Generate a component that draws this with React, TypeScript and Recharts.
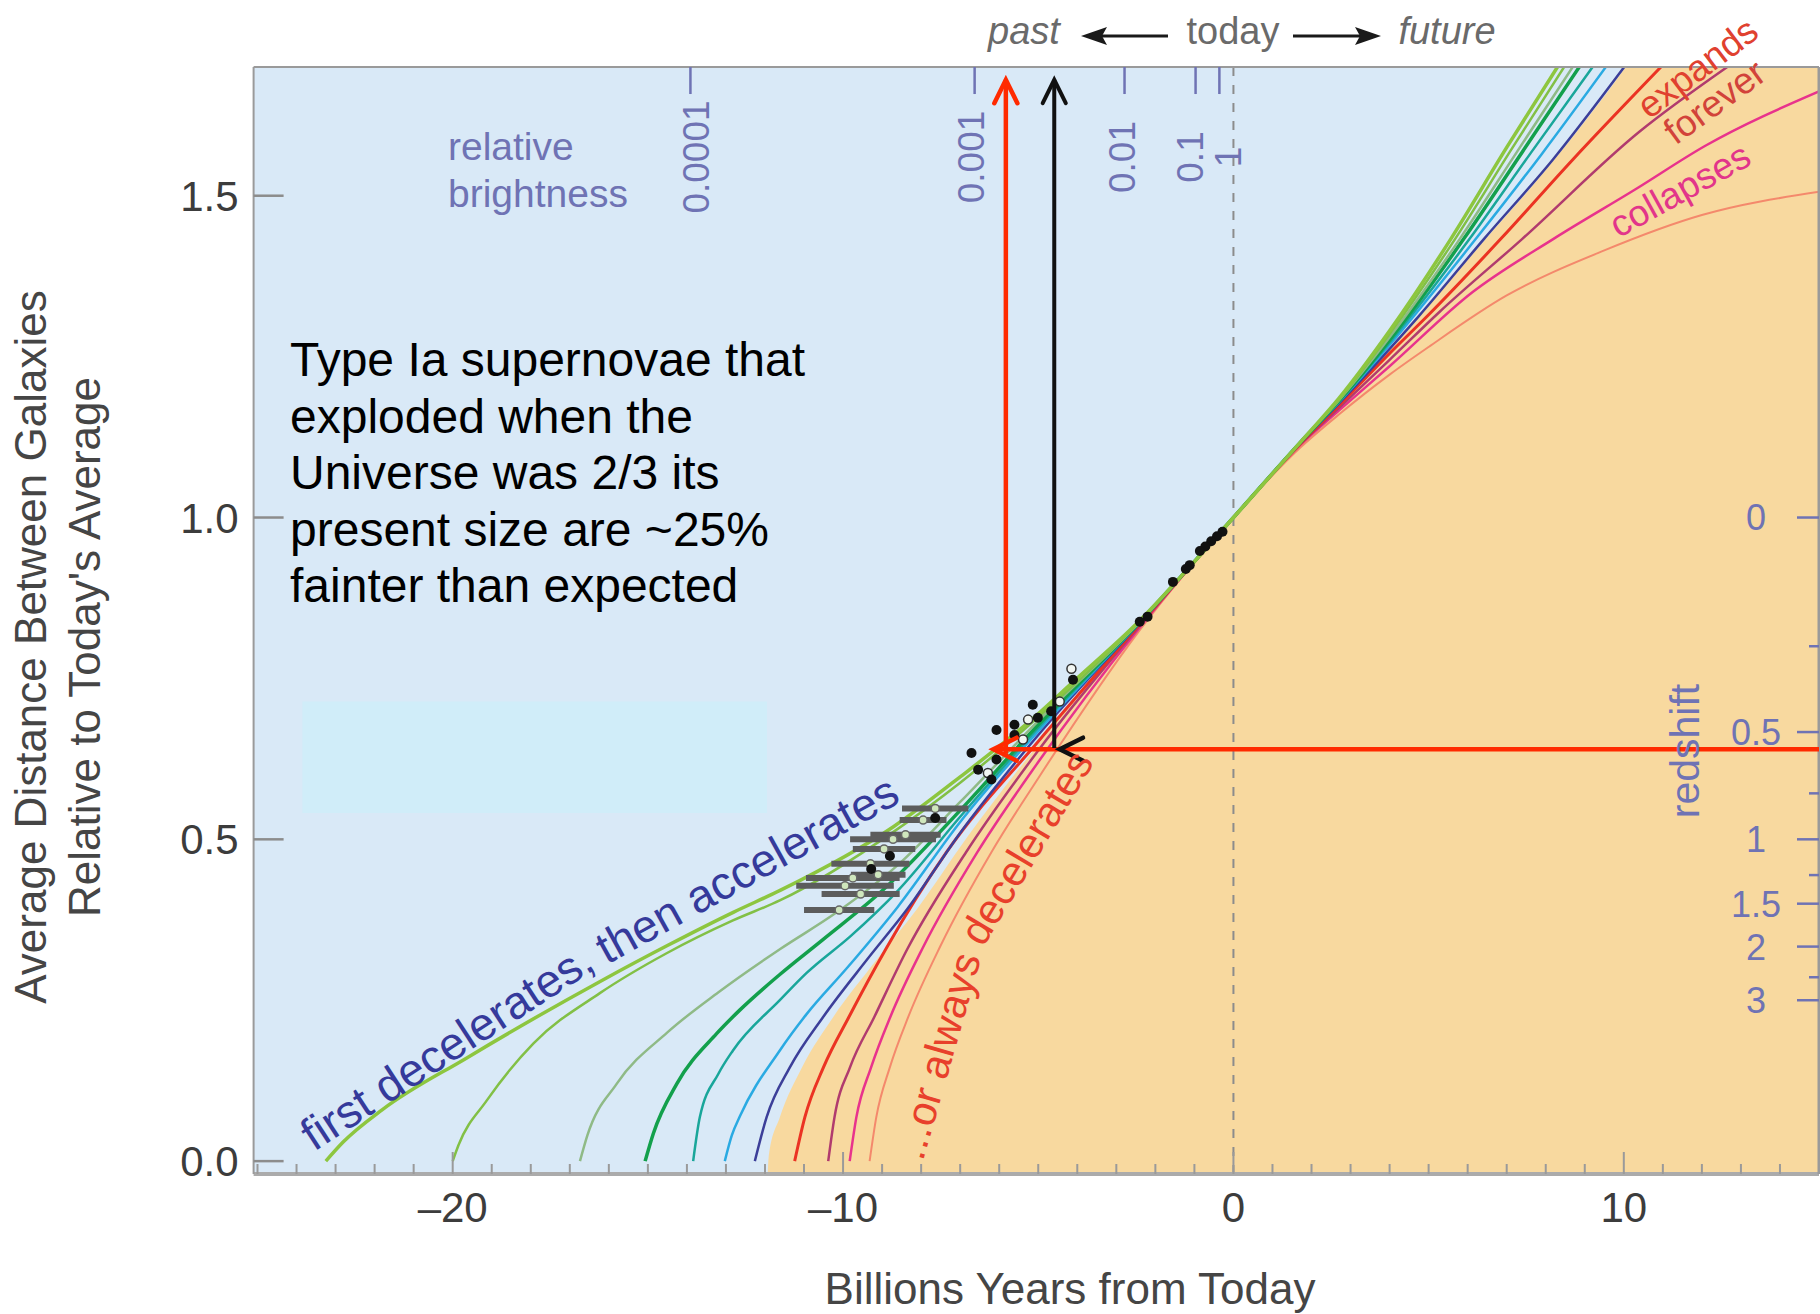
import React from 'react';
import {
  ComposedChart,
  Line,
  Area,
  Scatter,
  ErrorBar,
  XAxis,
  YAxis,
  CartesianGrid,
  ReferenceLine,
  ReferenceArea,
} from 'recharts';

const W = 1820;
const H = 1314;
const FONT = '"Liberation Sans", Arial, Helvetica, sans-serif';
const PURPLE = '#6f73b4';

type Pt = { t: number; a: number };
const pts = (rows: number[][]): Pt[] => rows.map(([t, a]) => ({ t, a }));

// ticks
const yTicks = [0, 0.5, 1.0, 1.5];
const xMajorTicks = [-20, -10, 0, 10];
const xMinorTicks = Array.from({ length: 41 }, (_, i) => i - 25);
const brightnessTicks = [-13.91, -6.63, -2.79, -0.97, -0.36];
const brightnessLabels = ['0.0001', '0.001', '0.01', '0.1', '1'];
const brightnessShift = [6, -3, -2, -5, 9];
const redshiftTicks = [0, 0.25, 0.5, 0.75, 1, 1.25, 1.5, 2, 2.5, 3];
const redshiftLabelled = [0, 0.5, 1, 1.5, 2, 3];

// expansion histories: t = Gyr from today, a = size relative to today
const lightGreenA = pts([
  [-23.25, 0], [-22.8, 0.03], [-21.8, 0.08], [-19.65, 0.16], [-16.2, 0.28], [-14.5, 0.335],
  [-12.8, 0.387], [-11.6, 0.421], [-8.7, 0.52], [-7.0, 0.597], [-5.0, 0.695], [-4.1, 0.745],
  [-2.4, 0.84], [-1.2, 0.918], [0, 1], [1.7, 1.116], [2.7, 1.185], [4.0, 1.29], [5.57, 1.433],
  [7.0, 1.575], [8.3, 1.7],
]);
const lightGreenB = pts([
  [-20.0, 0], [-19.85, 0.025], [-19.13, 0.094], [-17.93, 0.183], [-16.23, 0.261], [-14.52, 0.323],
  [-12.82, 0.374], [-11.62, 0.405], [-8.7, 0.512], [-7.0, 0.588], [-5.0, 0.69], [-2.4, 0.839],
  [0, 1], [1.7, 1.116], [2.7, 1.183], [4.0, 1.285], [5.68, 1.433], [7.1, 1.57], [8.47, 1.7],
]);
const sage = pts([
  [-16.74, 0], [-16.55, 0.04], [-15.8, 0.12], [-14.5, 0.2], [-13.2, 0.262], [-11.6, 0.33],
  [-10.2, 0.385], [-8.6, 0.46], [-7.0, 0.558], [-5.0, 0.684], [-2.4, 0.838], [0, 1],
  [1.7, 1.116], [2.7, 1.182], [4.0, 1.28], [5.8, 1.433], [7.25, 1.567], [8.69, 1.7],
]);
const green = pts([
  [-15.07, 0], [-14.86, 0.043], [-14.26, 0.12], [-13.24, 0.198], [-12.64, 0.235], [-11.62, 0.29],
  [-10.5, 0.345], [-9.0, 0.42], [-7.0, 0.545], [-5.0, 0.678], [-2.4, 0.838], [0, 1],
  [1.7, 1.116], [2.7, 1.181], [4.0, 1.276], [5.9, 1.433], [7.4, 1.568], [8.86, 1.7],
]);
const teal = pts([
  [-13.84, 0], [-13.67, 0.068], [-13.2, 0.135], [-12.82, 0.172], [-11.62, 0.25], [-10.94, 0.292],
  [-9.8, 0.35], [-8.6, 0.42], [-7.0, 0.535], [-5.0, 0.673], [-2.4, 0.837], [0, 1],
  [1.7, 1.116], [2.7, 1.18], [4.0, 1.272], [6.05, 1.433], [7.6, 1.565], [9.2, 1.7],
]);
const skyBlue = pts([
  [-13.03, 0], [-12.85, 0.04], [-12.64, 0.07], [-11.62, 0.172], [-10.94, 0.228], [-9.9, 0.3],
  [-8.6, 0.395], [-7.0, 0.527], [-5.0, 0.668], [-2.4, 0.837], [0, 1], [1.7, 1.116],
  [2.7, 1.179], [4.0, 1.268], [6.21, 1.433], [7.9, 1.565], [9.54, 1.7],
]);
const indigo = pts([
  [-12.26, 0], [-11.96, 0.068], [-11.36, 0.146], [-10.51, 0.224], [-9.4, 0.312], [-8.35, 0.392],
  [-7.0, 0.51], [-5.0, 0.662], [-2.4, 0.836], [0, 1], [1.7, 1.115], [2.7, 1.177], [4.0, 1.262],
  [4.75, 1.313], [6.42, 1.433], [8.18, 1.556], [10.01, 1.7],
]);
const red = pts([
  [-11.24, 0], [-10.98, 0.068], [-10.5, 0.146], [-9.85, 0.224], [-8.9, 0.33], [-7.35, 0.48],
  [-5.0, 0.652], [-2.4, 0.834], [0, 1], [1.7, 1.114], [2.7, 1.174], [4.0, 1.255], [5.0, 1.315],
  [6.85, 1.433], [8.69, 1.556], [10.95, 1.7],
]);
const plum = pts([
  [-10.38, 0], [-10.22, 0.068], [-9.82, 0.146], [-9.2, 0.224], [-8.35, 0.33], [-6.85, 0.48],
  [-5.0, 0.638], [-2.4, 0.832], [0, 1], [1.7, 1.113], [2.7, 1.17], [4.0, 1.245], [5.27, 1.319],
  [7.4, 1.433], [10.39, 1.599], [12.65, 1.7],
]);
const pink = pts([
  [-9.83, 0], [-9.66, 0.068], [-9.28, 0.146], [-8.79, 0.224], [-7.97, 0.33], [-6.56, 0.48],
  [-5.0, 0.62], [-2.4, 0.829], [0, 1], [1.7, 1.112], [2.7, 1.166], [4.0, 1.235], [6.12, 1.35],
  [8.2, 1.433], [10.3, 1.51], [12.1, 1.578], [15.0, 1.662],
]);
const salmon = pts([
  [-9.32, 0], [-9.15, 0.068], [-8.8, 0.146], [-8.33, 0.224], [-7.5, 0.335], [-6.2, 0.48],
  [-5.0, 0.595], [-2.4, 0.825], [0, 1], [1.7, 1.108], [2.7, 1.16], [4.0, 1.222], [5.0, 1.265],
  [7.0, 1.345], [9.5, 1.415], [12.0, 1.47], [15.0, 1.506],
]);

// edge of the decelerating (orange) region
const orangeEdge = pts([
  [-11.93, -0.02], [-11.9, 0.01], [-11.62, 0.068], [-11.05, 0.146], [-10.25, 0.224], [-9.15, 0.312],
  [-8.1, 0.392], [-6.8, 0.505], [-4.9, 0.655], [-2.4, 0.833], [0, 1], [2.7, 1.175], [4.0, 1.26],
  [6.42, 1.43], [8.18, 1.553], [10.01, 1.697], [15.0, 2.2],
]);

// supernovae
const snNearby = pts([
  [-0.28, 0.978], [-0.42, 0.971], [-0.57, 0.963], [-0.72, 0.955], [-0.86, 0.948], [-1.12, 0.926],
  [-1.22, 0.92], [-1.55, 0.9], [-2.2, 0.846], [-2.4, 0.838],
]);
const snDistant = pts([
  [-4.11, 0.748], [-4.67, 0.699], [-5.14, 0.709], [-5.01, 0.689], [-5.61, 0.678], [-6.07, 0.67],
  [-5.61, 0.662], [-6.71, 0.634], [-6.07, 0.624], [-6.54, 0.608], [-6.2, 0.593], [-7.64, 0.533],
  [-8.8, 0.474], [-9.28, 0.454],
]);
const snOpen = pts([[-4.15, 0.765], [-4.45, 0.714], [-5.26, 0.686], [-5.39, 0.655], [-6.29, 0.603]]);
const snHighZ = [
  { t: -7.64, a: 0.548, err: 0.85 },
  { t: -7.95, a: 0.53, err: 0.6 },
  { t: -8.4, a: 0.507, err: 0.9 },
  { t: -8.72, a: 0.5, err: 1.1 },
  { t: -8.95, a: 0.485, err: 0.8 },
  { t: -9.1, a: 0.445, err: 0.7 },
  { t: -9.3, a: 0.462, err: 1.0 },
  { t: -9.55, a: 0.415, err: 1.0 },
  { t: -9.75, a: 0.44, err: 1.2 },
  { t: -9.95, a: 0.428, err: 1.25 },
  { t: -10.1, a: 0.39, err: 0.9 },
];

const noteLines = [
  'Type Ia supernovae that',
  'exploded when the',
  'Universe was 2/3 its',
  'present size are ~25%',
  'fainter than expected',
];

const curves = [
  { name: 'salmon', data: salmon, color: '#f4896c', width: 2 },
  { name: 'pink', data: pink, color: '#e8338c', width: 2.5 },
  { name: 'plum', data: plum, color: '#b13b6e', width: 2.5 },
  { name: 'red', data: red, color: '#eb3323', width: 3 },
  { name: 'indigo', data: indigo, color: '#3c3f99', width: 2.5 },
  { name: 'skyBlue', data: skyBlue, color: '#2aaae2', width: 2.5 },
  { name: 'teal', data: teal, color: '#19a69a', width: 2.5 },
  { name: 'green', data: green, color: '#13a04c', width: 3.5 },
  { name: 'sage', data: sage, color: '#8fba86', width: 2.5 },
  { name: 'lightGreenB', data: lightGreenB, color: '#82c046', width: 2.5 },
  { name: 'lightGreenA', data: lightGreenA, color: '#8dc63f', width: 3.5 },
];

const LeftTick = (p: any) => (
  <g>
    <line x1={p.x} y1={p.y} x2={p.x + 30} y2={p.y} stroke="#8c8c8c" strokeWidth={2.5} />
    <text x={p.x - 15} y={p.y} dy="0.36em" textAnchor="end" fontSize={42} fill="#3c3c3c">
      {Number(p.payload.value).toFixed(1)}
    </text>
  </g>
);

const BottomTick = (p: any) => {
  const v = p.payload.value;
  const major = xMajorTicks.includes(v);
  return (
    <g>
      <line x1={p.x} y1={p.y} x2={p.x} y2={p.y - (major ? 22 : 10)} stroke="#9a9a9a" strokeWidth={2} />
      {major && (
        <text x={p.x} y={p.y + 48} textAnchor="middle" fontSize={42} fill="#3c3c3c">
          {v < 0 ? `–${-v}` : `${v}`}
        </text>
      )}
    </g>
  );
};

const RightTick = (p: any) => {
  const z = Math.round((1 / p.payload.value - 1) * 100) / 100;
  const major = redshiftLabelled.includes(z);
  return (
    <g>
      <line x1={p.x - (major ? 22 : 10)} y1={p.y} x2={p.x} y2={p.y} stroke={PURPLE} strokeWidth={2.5} />
      {major && (
        <text x={p.x - 63} y={p.y} dy="0.36em" textAnchor="middle" fontSize={36} fill={PURPLE}>
          {z}
        </text>
      )}
    </g>
  );
};

// brightness tick hanging from the top frame, with its rotated label
const brightnessShape = (label: string, shift: number) => (p: any) => (
  <g>
    <line x1={p.x1} y1={p.y1} x2={p.x2} y2={p.y2} stroke={PURPLE} strokeWidth={2.5} />
    <text
      transform={`translate(${p.x1 + shift} ${p.y1 + 90}) rotate(-90)`}
      textAnchor="middle"
      dominantBaseline="central"
      fontSize={37}
      fill={PURPLE}
    >
      {label}
    </text>
  </g>
);

const arrowShape = (color: string, w: number, showLine = true) => (p: any) => {
  const { x1, y1, x2, y2 } = p;
  const ang = Math.atan2(y2 - y1, x2 - x1);
  const L = 26;
  const s = 0.46;
  const ax = x2 - L * Math.cos(ang - s);
  const ay = y2 - L * Math.sin(ang - s);
  const bx = x2 - L * Math.cos(ang + s);
  const by = y2 - L * Math.sin(ang + s);
  return (
    <g>
      {showLine && <line x1={x1} y1={y1} x2={x2} y2={y2} stroke={color} strokeWidth={w} />}
      <polyline
        points={`${ax},${ay} ${x2},${y2} ${bx},${by}`}
        fill="none"
        stroke={color}
        strokeWidth={w}
        strokeLinecap="round"
      />
    </g>
  );
};

const BlackDot = (p: any) => <circle cx={p.cx} cy={p.cy} r={5} fill="#111" />;
const OpenDot = (p: any) => <circle cx={p.cx} cy={p.cy} r={4.5} fill="#f2f6f2" stroke="#333" strokeWidth={1.5} />;
const GrayPoint = (p: any) => <circle cx={p.cx} cy={p.cy} r={4} fill="#cfe6bd" stroke="#666" strokeWidth={1.5} />;

export default function App() {
  return (
    <div style={{ position: 'relative', width: W, height: H, fontFamily: FONT, background: '#fff' }}>
      <style>{'body{margin:0}'}</style>
      <ComposedChart width={W} height={H} margin={{ top: 66, right: 0, bottom: 139, left: 252.6 }}>
        <CartesianGrid horizontal={false} vertical={false} fill="#d9e9f7" fillOpacity={1} stroke="none" />
        <XAxis
          type="number"
          dataKey="t"
          domain={[-25.1, 15]}
          ticks={xMinorTicks}
          interval={0}
          height={1}
          tickSize={0}
          tickMargin={0}
          tickLine={false}
          tick={BottomTick}
          axisLine={{ stroke: '#ababab', strokeWidth: 4 }}
          allowDataOverflow
        />
        <XAxis
          xAxisId="top"
          orientation="top"
          type="number"
          domain={[-25.1, 15]}
          height={1}
          tick={false}
          tickLine={false}
          axisLine={{ stroke: '#9a9a9a', strokeWidth: 2 }}
          allowDataOverflow
        />
        <YAxis
          type="number"
          dataKey="a"
          domain={[-0.02, 1.7]}
          ticks={yTicks}
          interval={0}
          width={1}
          tickSize={0}
          tickMargin={0}
          tickLine={false}
          tick={LeftTick}
          axisLine={{ stroke: '#9a9a9a', strokeWidth: 2 }}
          allowDataOverflow
        />
        <YAxis
          yAxisId="z"
          orientation="right"
          type="number"
          domain={[-0.02, 1.7]}
          ticks={redshiftTicks.map((z) => 1 / (1 + z))}
          interval={0}
          width={1}
          tickSize={0}
          tickMargin={0}
          tickLine={false}
          tick={RightTick}
          axisLine={{ stroke: '#9a9a9a', strokeWidth: 3 }}
          allowDataOverflow
        />
        <ReferenceArea
          x1={-23.85}
          x2={-11.95}
          y1={0.541}
          y2={0.714}
          fill="#d0edf9"
          fillOpacity={1}
          stroke="none"
          zIndex={50}
        />
        <Area
          data={orangeEdge}
          dataKey="a"
          type="monotone"
          stroke="none"
          fill="#f8d99f"
          fillOpacity={1}
          baseValue="dataMin"
          activeDot={false}
          isAnimationActive={false}
        />
        <ReferenceLine x={0} stroke="#8c8c8c" strokeWidth={2} strokeDasharray="9 9" zIndex={150} />
        {brightnessTicks.map((t, i) => (
          <ReferenceLine
            key={brightnessLabels[i]}
            segment={[{ x: t, y: 1.7 }, { x: t, y: 1.658 }]}
            ifOverflow="visible"
            shape={brightnessShape(brightnessLabels[i], brightnessShift[i])}
            zIndex={600}
          />
        ))}
        {curves.map((c) => (
          <Line
            key={c.name}
            data={c.data}
            dataKey="a"
            type="monotone"
            stroke={c.color}
            strokeWidth={c.width}
            dot={false}
            activeDot={false}
            isAnimationActive={false}
          />
        ))}
        <Scatter data={snHighZ} dataKey="a" shape={GrayPoint} isAnimationActive={false}>
          <ErrorBar dataKey="err" direction="x" width={0} stroke="#5c5c5c" strokeWidth={6} isAnimationActive={false} />
        </Scatter>
        <Scatter data={snOpen} dataKey="a" shape={OpenDot} isAnimationActive={false} />
        <Scatter data={[...snNearby, ...snDistant]} dataKey="a" shape={BlackDot} isAnimationActive={false} />
        <ReferenceLine
          segment={[{ x: 15, y: 0.64 }, { x: -6.15, y: 0.64 }]}
          ifOverflow="visible"
          shape={arrowShape('#ff2a00', 4.5)}
          zIndex={1500}
        />
        <ReferenceLine
          segment={[{ x: -5.83, y: 0.633 }, { x: -5.83, y: 1.68 }]}
          ifOverflow="visible"
          shape={arrowShape('#ff2a00', 4.5)}
          zIndex={1500}
        />
        <ReferenceLine
          segment={[{ x: -4.59, y: 0.642 }, { x: -4.59, y: 1.68 }]}
          ifOverflow="visible"
          shape={arrowShape('#111', 4)}
          zIndex={1500}
        />
        <ReferenceLine
          segment={[{ x: -3.9, y: 0.64 }, { x: -4.45, y: 0.64 }]}
          ifOverflow="visible"
          shape={arrowShape('#111', 4.5, false)}
          zIndex={1510}
        />
      </ComposedChart>

      <svg width={W} height={H} style={{ position: 'absolute', left: 0, top: 0, pointerEvents: 'none' }}>
        <text transform="translate(46 647) rotate(-90)" textAnchor="middle" fontSize={44} fill="#454545">
          Average Distance Between Galaxies
        </text>
        <text transform="translate(100 647) rotate(-90)" textAnchor="middle" fontSize={44} fill="#454545">
          Relative to Today's Average
        </text>
        <text x={1070} y={1304} textAnchor="middle" fontSize={44} fill="#454545">
          Billions Years from Today
        </text>

        <text x={1024} y={44} textAnchor="middle" fontSize={38} fontStyle="italic" fill="#6a6a6a">past</text>
        <text x={1233} y={44} textAnchor="middle" fontSize={38} fill="#6a6a6a">today</text>
        <text x={1447} y={44} textAnchor="middle" fontSize={38} fontStyle="italic" fill="#6a6a6a">future</text>
        <line x1={1168} y1={36} x2={1100} y2={36} stroke="#1a1a1a" strokeWidth={3} />
        <polygon points="1081,36 1107,27 1102,36 1107,45" fill="#1a1a1a" />
        <line x1={1293} y1={36} x2={1362} y2={36} stroke="#1a1a1a" strokeWidth={3} />
        <polygon points="1381,36 1355,27 1360,36 1355,45" fill="#1a1a1a" />

        <text fontSize={48} fill="#000">
          {noteLines.map((s, i) => (
            <tspan key={i} x={290} y={376 + i * 56.5}>
              {s}
            </tspan>
          ))}
        </text>

        <text x={448} y={160} fontSize={39} fill={PURPLE}>relative</text>
        <text x={448} y={207} fontSize={39} fill={PURPLE}>brightness</text>
        <text transform="translate(1699 751) rotate(-90)" textAnchor="middle" fontSize={41} fill={PURPLE}>
          redshift
        </text>

        <text transform="translate(314 1152) rotate(-33)" fontSize={46} fill="#353a9b">first decelerates,</text>
        <text transform="translate(607 965) rotate(-29)" fontSize={46} fill="#353a9b">then accelerates</text>
        <text transform="translate(952 1060) rotate(-74)" textAnchor="middle" fontSize={42} fill="#e8402b">
          ...or always
        </text>
        <text transform="translate(1039 855) rotate(-59)" textAnchor="middle" fontSize={42} fill="#e8402b">
          decelerates
        </text>
        <text transform="translate(1705 78) rotate(-37)" textAnchor="middle" fontSize={37} fill="#e0412f">
          expands
        </text>
        <text transform="translate(1722 112) rotate(-36)" textAnchor="middle" fontSize={37} fill="#d2433a">
          forever
        </text>
        <text transform="translate(1686 201) rotate(-29)" textAnchor="middle" fontSize={37} fill="#e2358a">
          collapses
        </text>
      </svg>
    </div>
  );
}
